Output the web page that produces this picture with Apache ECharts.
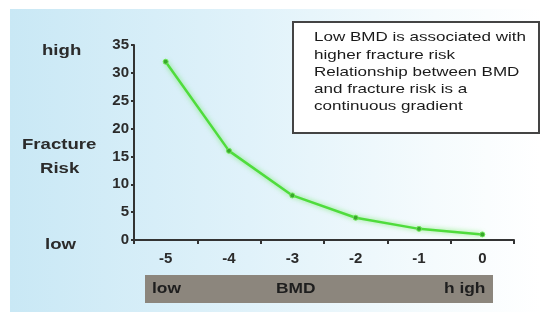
<!DOCTYPE html>
<html>
  <head>
    <meta charset="utf-8" />
    <title>BMD and fracture risk</title>
    <script src="https://cdn.jsdelivr.net/npm/echarts@6/dist/echarts.min.js"></script>
    <style>
      html, body { margin: 0; padding: 0; background: #fff; }
      #chart { width: 541px; height: 313px; }
    </style>
  </head>
  <body>
    <div id="chart"></div>
    <script type="text/javascript">
      // data
      var bmdScores = ["-5", "-4", "-3", "-2", "-1", "0"];
      var fractureRisk = [32, 16, 8, 4, 2, 1];
      var noteLines = [
        "Low BMD is associated with",
        "higher fracture risk",
        "Relationship between BMD",
        "and fracture risk is a",
        "continuous gradient"
      ];

      var txt = "#2b2b2b";
      var fam = "Arial, 'Liberation Sans', sans-serif";
      var boldFont = "bold 14px " + fam;
      var stretch = 1.24; // the slide was stretched sideways

      // plain text helper, positioned by its top-left point
      function label(x, y, text, font, fill, extra, sx) {
        var el = {
          type: "text", z: 11, x: x, y: y, scaleX: sx || stretch,
          style: { text: text, font: font, fill: fill || txt, textVerticalAlign: "top" }
        };
        if (extra) Object.assign(el.style, extra);
        return el;
      }

      var myChart = echarts.init(document.getElementById("chart"), null, { renderer: "canvas" });
      var option = {
        animation: false,
        backgroundColor: "#ffffff",
        grid: { left: 134, right: 27, top: 45, bottom: 73 },
        xAxis: {
          type: "category",
          data: bmdScores,
          boundaryGap: true,
          axisLine: { lineStyle: { color: "#333", width: 2 } },
          axisTick: { show: true, length: 4, lineStyle: { color: "#333", width: 2 } },
          axisLabel: {
            color: txt, fontWeight: "bold", fontSize: 15, fontFamily: fam, margin: 11
          },
          splitLine: { show: false }
        },
        yAxis: {
          type: "value",
          min: 0,
          max: 35,
          interval: 5,
          axisLine: { show: true, lineStyle: { color: "#333", width: 2 } },
          axisTick: { show: true, length: 3, lineStyle: { color: "#333", width: 2 } },
          axisLabel: {
            color: txt, fontWeight: "bold", fontSize: 15, fontFamily: fam, margin: 5
          },
          splitLine: { show: false }
        },
        series: [
          {
            type: "line",
            data: fractureRisk,
            symbol: "circle",
            symbolSize: 5,
            lineStyle: {
              color: "#4fdc3c", width: 2.5,
              shadowColor: "rgba(80,230,60,0.7)", shadowBlur: 5
            },
            itemStyle: { color: "#3aa82c", borderColor: "#6fe85a", borderWidth: 1 },
            z: 5
          }
        ],
        graphic: [
          // light blue slide background
          {
            type: "rect", z: -10, silent: true,
            shape: { x: 10, y: 9, width: 531, height: 303 },
            style: {
              fill: new echarts.graphic.LinearGradient(0, 0, 1, 0, [
                { offset: 0, color: "#c9e8f5" },
                { offset: 0.45, color: "#e0f2fa" },
                { offset: 0.8, color: "#f5fbfd" },
                { offset: 1, color: "#ffffff" }
              ])
            }
          },
          // note box
          {
            type: "rect", z: 10,
            shape: { x: 293, y: 22, width: 246, height: 111 },
            style: { fill: "#ffffff", stroke: "#444", lineWidth: 2 }
          },
          label(314, 29, noteLines.join("\n"), "13px " + fam, "#1a1a1a", { lineHeight: 17.3 }, 1.31),
          // left-side labels
          label(42, 43, "high", "bold 15px " + fam),
          label(22, 137, "Fracture", "bold 15px " + fam),
          label(40, 161, "Risk", "bold 15px " + fam),
          label(45, 237, "low", "bold 15px " + fam),
          // bottom BMD bar
          {
            type: "rect", z: 10,
            shape: { x: 145, y: 275, width: 348, height: 28 },
            style: { fill: "#8c867d" }
          },
          label(152, 282, "low", boldFont, "#1e1e1e"),
          label(276, 282, "BMD", boldFont, "#1e1e1e"),
          label(444, 282, "h igh", boldFont, "#1e1e1e")
        ]
      };
      myChart.setOption(option);
    </script>
  </body>
</html>
